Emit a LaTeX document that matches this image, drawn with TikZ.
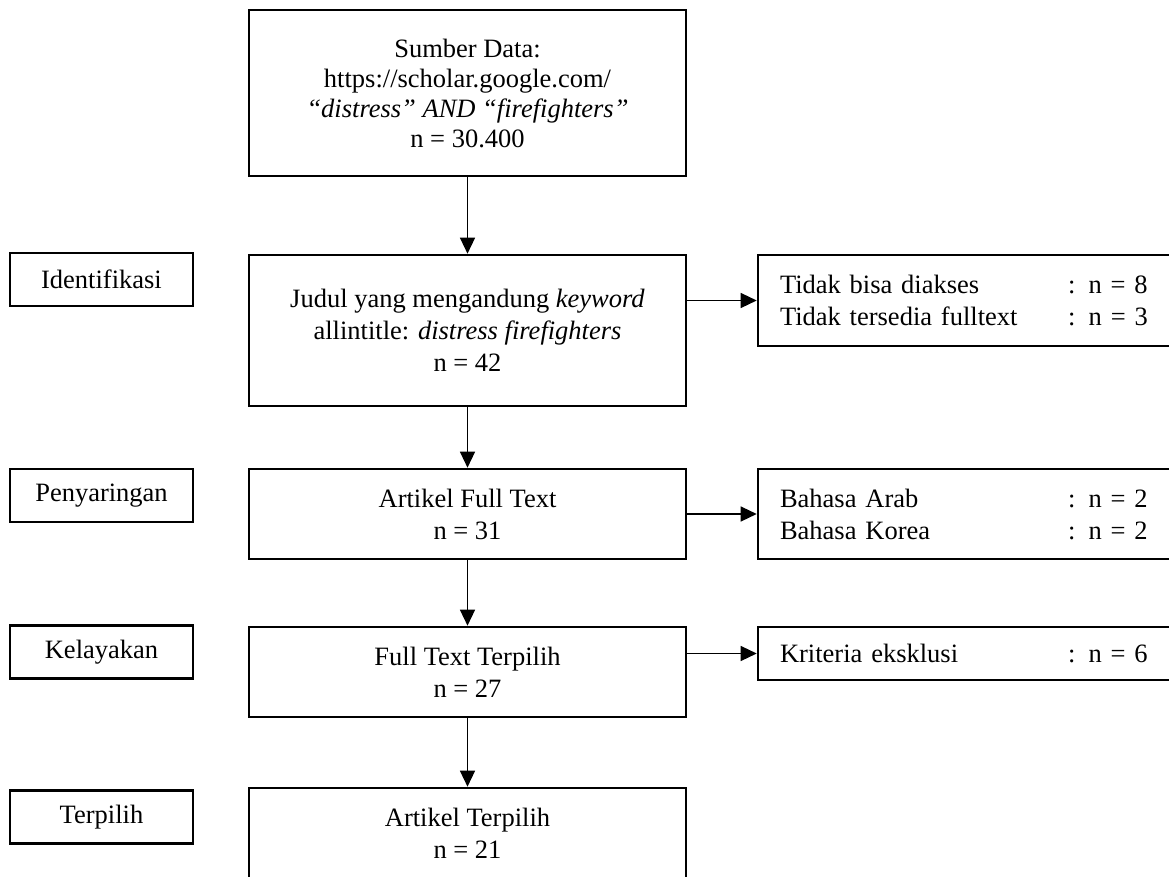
\documentclass[tikz,border=0pt]{standalone}
\usepackage{fontspec}
\setmainfont{Liberation Serif}
\usetikzlibrary{positioning,arrows.meta}

\tikzset{
  box/.style={draw, line width=2.6pt, align=center, inner sep=0pt,
    font=\fontsize{26.5pt}{32pt}\selectfont},
  mainbox/.style={box, minimum width=437pt},
  stage/.style={box, minimum width=183pt, minimum height=53pt},
  sidebox/.style={box, align=left, text width=373pt, inner xsep=22pt, minimum height=#1},
  arr/.style={-{Triangle[length=16pt,width=15pt]}, line width=1.3pt},
}
\newcommand{\cnt}[2]{\makebox[288pt][l]{#1}#2}

\begin{document}
\begin{tikzpicture}[x=1pt,y=-1pt,node distance=1cm,on grid]
   \useasboundingbox (0,0) rectangle (1169,877);

   \node[mainbox,minimum height=166pt,font=\fontsize{26.5pt}{30pt}\selectfont] (src) at (467.5,93)
      {Sumber Data:\\https://scholar.google.com/\\\textit{“distress” AND “firefighters”}\\n = 30.400};
   \node[mainbox,minimum height=151pt] (judul) [below=237.5pt of src]
      {Judul yang mengandung \textit{keyword}\\allintitle: \textit{distress firefighters}\\n = 42};
   \node[mainbox,minimum height=90pt] (fulltext) [below=183.5pt of judul] {Artikel Full Text\\n = 31};
   \node[mainbox,minimum height=90pt] (ftpilih) [below=158pt of fulltext] {Full Text Terpilih\\n = 27};
   \node[mainbox,minimum height=90pt] (artpilih) [below=161pt of ftpilih] {Artikel Terpilih\\n = 21};

   \node[stage] (ident) at (101.5,279.5) {Identifikasi};
   \node[stage] (saring) at (101.5,495.5) {Penyaringan};
   \node[stage] (layak) at (101.5,652) {Kelayakan};
   \node[stage] (pilih) at (101.5,817) {Terpilih};

   \node[sidebox=91pt] (akses) at (966.5,300.5)
      {\cnt{Tidak bisa diakses}{: n = 8}\\\cnt{Tidak tersedia fulltext}{: n = 3}};
   \node[sidebox=90pt] (bahasa) at (966.5,514)
      {\cnt{Bahasa Arab}{: n = 2}\\\cnt{Bahasa Korea}{: n = 2}};
   \node[sidebox=53pt] (kriteria) at (966.5,653.5) {\cnt{Kriteria eksklusi}{: n = 6}};

   \path[arr]
   (src) edge (judul)
   (judul) edge (fulltext)
   (fulltext) edge (ftpilih)
   (ftpilih) edge (artpilih)
   (judul.east |- akses.west) edge (akses.west)
   (fulltext.east |- bahasa.west) edge (bahasa.west)
   (ftpilih.east |- kriteria.west) edge (kriteria.west);
\end{tikzpicture}
\end{document}
